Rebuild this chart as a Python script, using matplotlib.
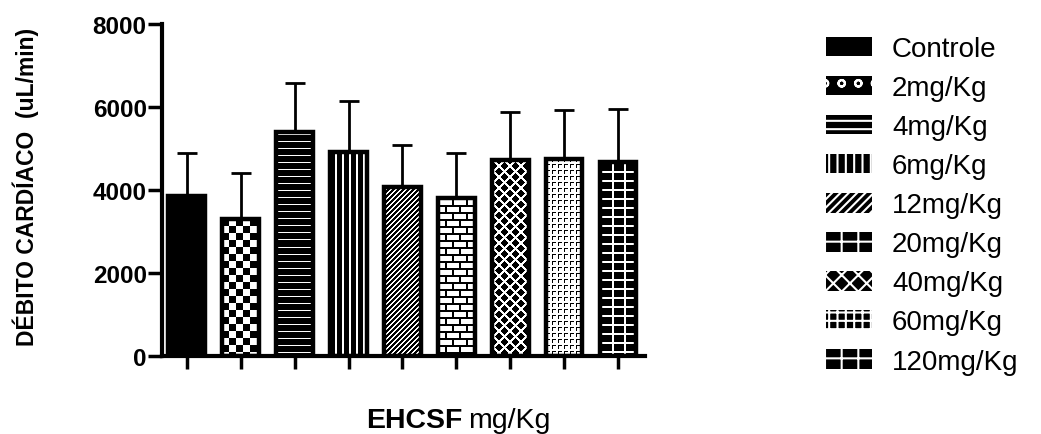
import matplotlib
matplotlib.use("Agg")
import matplotlib.pyplot as plt
import numpy as np
from matplotlib.patches import Patch

plt.rcParams['font.family'] = ['Liberation Sans', 'DejaVu Sans']
plt.rcParams['hatch.linewidth'] = 1.5

# data
groups = ["Controle", "2mg/Kg", "4mg/Kg", "6mg/Kg", "12mg/Kg",
          "20mg/Kg", "40mg/Kg", "60mg/Kg", "120mg/Kg"]
means = np.array([3850, 3290, 5400, 4910, 4070, 3800, 4720, 4750, 4670])
sem = np.array([1030, 1130, 1190, 1240, 1010, 1100, 1160, 1180, 1270])
yticks = [0, 2000, 4000, 6000, 8000]


# fill patterns, in pixels (True = black)
def solid(x, y):
    return np.ones_like(x, dtype=bool)

def checker(x, y):
    return (x // 7 + y // 7) % 2 == 0

def hlines(x, y):
    return y % 7 != 3

def vlines(x, y):
    return x % 7 < 5

def diag(x, y):
    return (x + y) % 5 < 3

def bricks(x, y):
    row = y // 7
    return (y % 7 < 2) | ((x + (row % 2) * 7) % 14 < 2)

def lattice(x, y):
    return ((x + y) % 11 >= 3) & ((x - y) % 11 >= 3)

def gamma(x, y):
    return ((x % 6 == 0) & (y % 6 < 4)) | ((y % 6 == 0) & (x % 6 < 4))

def grid(x, y):
    return (y % 9 >= 2) & (x % 12 >= 2)

patterns = [solid, checker, hlines, vlines, diag, bricks, lattice, gamma, grid]
legend_hatch = [None, 'o', '--', '||', '////', '+', 'xx', '++', '+']

fig = plt.figure(figsize=(10.41, 4.35), dpi=100)
ax = fig.add_axes([162 / 1041, 78 / 435, 483 / 1041, 332 / 435])

x = np.arange(len(groups))
bars = ax.bar(x, means, width=0.68, facecolor='none', edgecolor='black',
              linewidth=3.2, zorder=3)
ax.errorbar(x, means, yerr=[np.zeros_like(sem), sem], fmt='none',
            ecolor='black', elinewidth=2, capsize=7, capthick=2, zorder=1)

ax.set_xlim(-0.46, 8.5)
ax.set_ylim(0, 8000)

for bar, pat in zip(bars, patterns):
    x0, x1 = bar.get_x(), bar.get_x() + bar.get_width()
    y1 = bar.get_height()
    (px0, py0), (px1, py1) = ax.transData.transform([(x0, 0), (x1, y1)])
    w, h = int(round(px1 - px0)), int(round(py1 - py0))
    yy, xx = np.mgrid[0:h, 0:w]
    img = np.where(pat(xx, yy), 0.0, 1.0)
    im = ax.imshow(img, cmap='gray', vmin=0, vmax=1, extent=(x0, x1, 0, y1),
                   aspect='auto', interpolation='nearest', zorder=2)
    im.set_clip_path(bar)

ax.set_xlim(-0.46, 8.5)
ax.set_ylim(0, 8000)

for s in ['top', 'right']:
    ax.spines[s].set_visible(False)
for s in ['left', 'bottom']:
    ax.spines[s].set_linewidth(3)

ax.set_xticks(x)
ax.set_xticklabels([])
ax.set_yticks(yticks)
ax.set_yticklabels([str(t) for t in yticks], fontsize=17.5, fontweight='bold')
ax.tick_params(axis='y', length=10, width=2.5, pad=1)
ax.tick_params(axis='x', length=9, width=2.5)

fig.text(26 / 1041, 1 - 187 / 435, "DÉBITO CARDÍACO  (uL/min)", rotation=90,
         ha='center', va='center', fontsize=16.5, fontweight='bold')
fig.text(462 / 1041, 1 - 421 / 435, "EHCSF", ha='right', va='center',
         fontsize=20.5, fontweight='bold')
fig.text(468 / 1041, 1 - 421 / 435, "mg/Kg", ha='left', va='center',
         fontsize=20.5)

handles = [Patch(facecolor='black', edgecolor='white', linewidth=0, hatch=h)
           for h in legend_hatch]
fig.legend(handles, groups, loc='upper left',
           bbox_to_anchor=(815 / 1041, 1 - 26 / 435), frameon=False,
           fontsize=20, handlelength=1.65, handleheight=0.72,
           handletextpad=0.72, labelspacing=0.47, borderaxespad=0)

fig.savefig("out.png", dpi=100)
